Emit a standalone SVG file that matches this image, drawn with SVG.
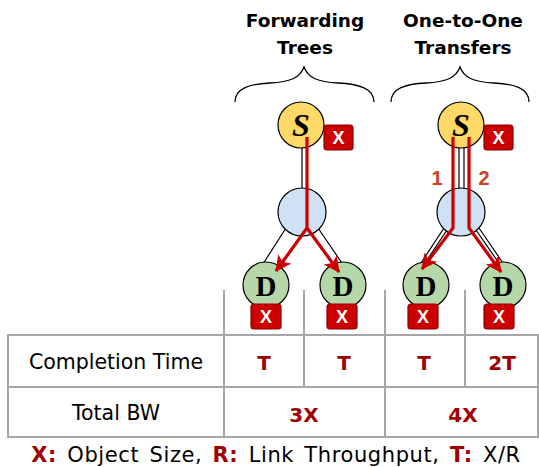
<svg xmlns="http://www.w3.org/2000/svg" width="539" height="467" viewBox="0 0 539 467">
<style>
.title{font-family:"DejaVu Sans",sans-serif;font-weight:bold;font-size:18.5px;fill:#000;text-anchor:middle}
.brace{fill:none;stroke:#000;stroke-width:1.3}
.edge{stroke:#000;stroke-width:1.2;fill:none}
.flow{stroke:#CC0000;stroke-width:3.2;fill:none;stroke-linejoin:miter}
.s{fill:#FFD966;stroke:#000;stroke-width:1.2}
.m{fill:#CFE2F3;stroke:#000;stroke-width:1.2}
.d{fill:#B6D7A8;stroke:#000;stroke-width:1.2}
.badge{fill:#CC0000;stroke:#8B0000;stroke-width:1.2}
.bx{font-family:"Liberation Sans",sans-serif;font-weight:bold;font-size:18px;fill:#fff;text-anchor:middle}
.sl{font-family:"Liberation Serif",serif;font-weight:bold;font-style:italic;font-size:32px;text-anchor:middle;fill:#000}
.dl{font-family:"Liberation Serif",serif;font-weight:bold;font-size:29px;text-anchor:middle;fill:#000}
.num{font-family:"Liberation Sans",sans-serif;font-weight:bold;font-size:20px;fill:#CC4125;text-anchor:middle}
.grid{stroke:#A6A6A6;stroke-width:2;fill:none}
.lab{font-family:"DejaVu Sans",sans-serif;font-size:20.5px;fill:#000;text-anchor:middle}
.foot{font-family:"DejaVu Sans",sans-serif;font-size:21px;fill:#000;text-anchor:middle;letter-spacing:0.6px;word-spacing:3px}
.val{font-family:"DejaVu Sans",sans-serif;font-weight:bold;font-size:20px;fill:#A00000;text-anchor:middle}
.key{font-weight:bold;fill:#A00000}
</style>
<defs>
<marker id="ah" markerUnits="userSpaceOnUse" markerWidth="18" markerHeight="16" refX="15" refY="8" orient="auto">
<path d="M0,0 L16,8 L0,16 L4,8 Z" fill="#CC0000"/>
</marker>
</defs>

<g id="titles">
<text class="title" x="305" y="27">Forwarding</text>
<text class="title" x="305" y="54">Trees</text>
<text class="title" x="463" y="27">One-to-One</text>
<text class="title" x="463" y="54">Transfers</text>
<path class="brace" d="M235,102 C235,88 250,84 270,83 C290,82 300,78 304,67 C308,78 318,82 338,83 C358,84 374,88 374,102"/>
<path class="brace" d="M391,102 C391,88 406,84 426,83 C446,82 456,78 460,67 C464,78 474,82 494,83 C514,84 529,88 529,102"/>
</g>

<g id="edges">
<line class="edge" x1="302" y1="140" x2="302" y2="195"/>
<line class="edge" x1="286" y1="228" x2="261" y2="267"/>
<line class="edge" x1="318" y1="228" x2="344" y2="266"/>
<line class="edge" x1="459" y1="140" x2="459" y2="195"/>
<line class="edge" x1="464" y1="140" x2="464" y2="195"/>
<line class="edge" x1="444" y1="228" x2="419" y2="266"/>
<line class="edge" x1="447" y1="230" x2="423" y2="266"/>
<line class="edge" x1="476" y1="230" x2="501" y2="266"/>
<line class="edge" x1="479" y1="228" x2="505" y2="266"/>
</g>

<g id="node-s1"><circle class="s" cx="301" cy="125" r="23"/><text class="sl" x="301" y="136">S</text></g>
<g id="node-m1"><circle class="m" cx="302" cy="212" r="24"/></g>
<g id="node-d1"><circle class="d" cx="266" cy="285" r="23"/><text class="dl" x="266" y="296">D</text></g>
<g id="node-d2"><circle class="d" cx="343" cy="285" r="23"/><text class="dl" x="343" y="296">D</text></g>
<g id="node-s2"><circle class="s" cx="461" cy="125" r="23"/><text class="sl" x="461" y="136">S</text></g>
<g id="node-m2"><circle class="m" cx="461" cy="212" r="24"/></g>
<g id="node-d3"><circle class="d" cx="426" cy="285" r="23"/><text class="dl" x="426" y="296">D</text></g>
<g id="node-d4"><circle class="d" cx="503" cy="285" r="23"/><text class="dl" x="503" y="296">D</text></g>

<g id="badges">
<rect class="badge" x="324" y="125" width="29" height="25" rx="3"/><text class="bx" x="338.5" y="144">X</text>
<rect class="badge" x="484" y="125" width="29" height="25" rx="3"/><text class="bx" x="498.5" y="144">X</text>
<rect class="badge" x="251" y="304" width="30" height="25" rx="3"/><text class="bx" x="266" y="323">X</text>
<rect class="badge" x="327" y="304" width="30" height="25" rx="3"/><text class="bx" x="342" y="323">X</text>
<rect class="badge" x="408" y="304" width="30" height="25" rx="3"/><text class="bx" x="423" y="323">X</text>
<rect class="badge" x="484" y="304" width="30" height="25" rx="3"/><text class="bx" x="499" y="323">X</text>
</g>

<g id="flows">
<path class="flow" d="M307,137 L307,228 L276,271" marker-end="url(#ah)"/>
<path class="flow" d="M307,228 L339,272" marker-end="url(#ah)"/>
<path class="flow" d="M453,137 L453,228 L422,269" marker-end="url(#ah)"/>
<path class="flow" d="M469,137 L469,228 L501,272" marker-end="url(#ah)"/>
<text class="num" x="437" y="185">1</text>
<text class="num" x="484" y="185">2</text>
</g>

<g id="table">
<line class="grid" x1="224" y1="290" x2="224" y2="335"/>
<line class="grid" x1="304" y1="290" x2="304" y2="387"/>
<line class="grid" x1="385" y1="290" x2="385" y2="335"/>
<line class="grid" x1="465" y1="290" x2="465" y2="387"/>
<rect class="grid" x="8" y="335" width="530" height="102"/>
<line class="grid" x1="8" y1="387" x2="538" y2="387"/>
<line class="grid" x1="224" y1="335" x2="224" y2="437"/>
<line class="grid" x1="385" y1="335" x2="385" y2="437"/>
<text class="lab" x="116" y="369">Completion Time</text>
<text class="lab" x="116" y="420">Total BW</text>
<text class="val" x="264" y="370">T</text>
<text class="val" x="344" y="370">T</text>
<text class="val" x="424" y="370">T</text>
<text class="val" x="502" y="370">2T</text>
<text class="val" x="304" y="422">3X</text>
<text class="val" x="463" y="422">4X</text>
</g>

<g id="legend">
<text class="foot" x="276" y="462"><tspan class="key">X:</tspan> Object Size, <tspan class="key">R:</tspan> Link Throughput, <tspan class="key">T:</tspan> X/R</text>
</g>
</svg>
